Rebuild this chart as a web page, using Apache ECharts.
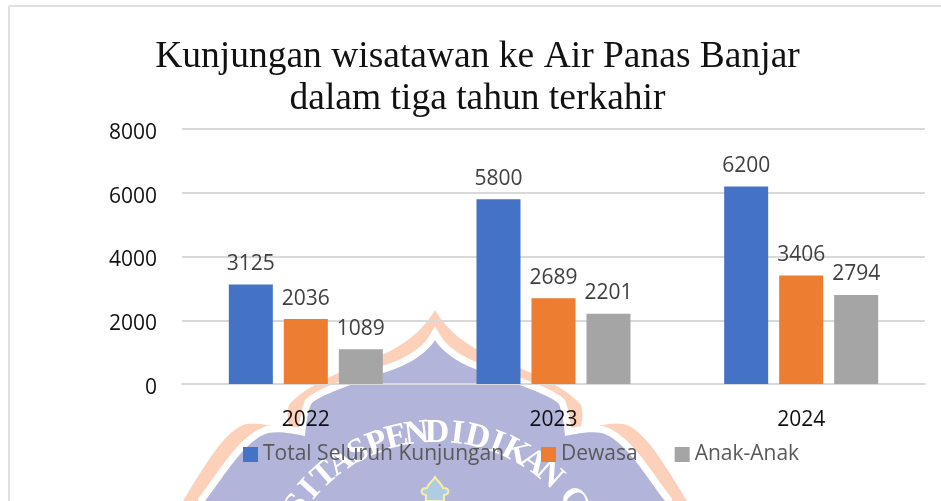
<!DOCTYPE html>
<html lang="en">

<head>
    <meta charset="UTF-8">
    <title>Kunjungan wisatawan</title>
    <script src="https://cdn.jsdelivr.net/npm/echarts@6/dist/echarts.min.js"></script>
    <style>
        html, body { margin: 0; padding: 0; background: #fff; }
    </style>
</head>

<body>
    <div id="app" style="width:941px;height:501px;"></div>
    <script>
        var years = ['2022', '2023', '2024'];
        var totalKunjungan = [3125, 5800, 6200];
        var dewasa = [2036, 2689, 3406];
        var anakAnak = [1089, 2201, 2794];
        var titleText = 'Kunjungan wisatawan ke Air Panas Banjar\ndalam tiga tahun terkahir';
        var arcText = 'SITASPENDIDIKANGA';

        var labelFont = '"Open Sans"';

        // outline of the watermark behind the chart
        var outerPath = 'M435 310 C422 332 402 346 384 354 C350 368 305 385 289 405 C286 415 288 425 291 432 ' +
            'C275 426 260 422 246 424 C225 430 205 465 183 501 L183 520 L687 520 L687 501 C665 465 645 430 624 424 ' +
            'C610 422 595 426 579 432 C582 425 584 415 581 405 C565 385 520 368 486 354 C468 346 448 332 435 310 Z';
        var innerPath = 'M435 340 C428 352 410 365 383 373 C350 385 320 395 311 404 C307 415 306 425 305 436 ' +
            'C290 433 280 431 268 433 C245 440 225 475 205 501 L205 520 L665 520 L665 501 C645 475 625 440 602 433 ' +
            'C590 431 580 433 565 436 C564 425 563 415 559 404 C550 395 520 385 487 373 C460 365 442 352 435 340 Z';
        var crestPath = 'M435 477 C438 482 442 484 443 488 C450 488 450 494 444 495 L444 501 L426 501 L426 495 ' +
            'C420 494 420 488 427 488 C428 484 432 482 435 477 Z';

        echarts.graphic.registerShape('badgeOuter', echarts.graphic.extendPath(outerPath, {}));
        echarts.graphic.registerShape('badgeInner', echarts.graphic.extendPath(innerPath, {}));
        echarts.graphic.registerShape('badgeCrest', echarts.graphic.extendPath(crestPath, {}));

        var watermark = [
            { type: 'badgeOuter', style: { fill: '#fdd0b9' }, z: -5 },
            { type: 'badgeInner', style: { fill: '#fff', stroke: '#fff', lineWidth: 14 }, z: -4 },
            { type: 'badgeInner', style: { fill: '#b2b4d9' }, z: -3 },
            { type: 'badgeCrest', style: { fill: '#aecde3', stroke: '#f7efa8', lineWidth: 2 }, z: -2 }
        ];

        // letters of the seal text, set along an arc
        var cx = 437, cy = 603, r = 170;
        for (var i = 0; i < arcText.length; i++) {
            var a = -0.96 + i * 0.12;
            if (i >= 15) {
                a += 0.09; // gap before GA
            }
            watermark.push({
                type: 'text',
                x: cx + r * Math.sin(a),
                y: cy - r * Math.cos(a),
                rotation: -a,
                style: {
                    text: arcText[i], fill: '#fff', align: 'center', verticalAlign: 'middle',
                    font: 'bold 34px "Liberation Serif"'
                },
                z: -1
            });
        }

        // page frame
        var frame = [
            { type: 'line', shape: { x1: 9, y1: 6, x2: 941, y2: 6 }, style: { stroke: '#e0e0e0', lineWidth: 2 } },
            { type: 'line', shape: { x1: 9, y1: 6, x2: 9, y2: 501 }, style: { stroke: '#e0e0e0', lineWidth: 2 } }
        ];

        var myChart = echarts.init(document.getElementById('app'));

        function barSeries(name, data, color) {
            return {
                name: name,
                type: 'bar',
                data: data,
                barWidth: 44,
                barGap: '25%',
                itemStyle: { color: color },
                label: {
                    show: true,
                    position: 'top',
                    distance: 10,
                    color: '#404040',
                    fontFamily: labelFont,
                    fontSize: 21
                }
            };
        }

        var option = {
            animation: false,
            backgroundColor: '#fff',
            title: {
                text: titleText,
                left: 472.5,
                top: 31,
                textAlign: 'center',
                textStyle: {
                    fontFamily: '"Liberation Serif"',
                    fontWeight: 'normal',
                    fontSize: 37.5,
                    lineHeight: 42,
                    color: '#111'
                }
            },
            legend: {
                top: 439,
                left: 238,
                itemWidth: 15,
                itemHeight: 15,
                itemGap: 37,
                icon: 'rect',
                textStyle: { color: '#595959', fontFamily: labelFont, fontSize: 21 }
            },
            grid: { left: 182, right: 16, top: 129, bottom: 117 },
            xAxis: {
                type: 'category',
                data: years,
                axisTick: { show: false },
                axisLine: { lineStyle: { color: '#d9d9d9', width: 2 } },
                axisLabel: { color: '#111', fontFamily: labelFont, fontSize: 21, margin: 26 }
            },
            yAxis: {
                type: 'value',
                min: 0,
                max: 8000,
                interval: 2000,
                axisLine: { show: false },
                axisTick: { show: false },
                splitLine: { lineStyle: { color: '#d9d9d9', width: 2 } },
                axisLabel: {
                    color: '#111',
                    fontFamily: labelFont,
                    fontSize: 21,
                    margin: 25,
                    verticalAlign: 'top',
                    lineHeight: 8,
                    formatter: function (value) {
                        return String(value);
                    }
                }
            },
            graphic: { elements: watermark.concat(frame) },
            series: [
                barSeries('Total Seluruh Kunjungan', totalKunjungan, '#4472c4'),
                barSeries('Dewasa', dewasa, '#ed7d31'),
                barSeries('Anak-Anak', anakAnak, '#a5a5a5')
            ]
        };
        myChart.setOption(option);
    </script>
</body>

</html>
